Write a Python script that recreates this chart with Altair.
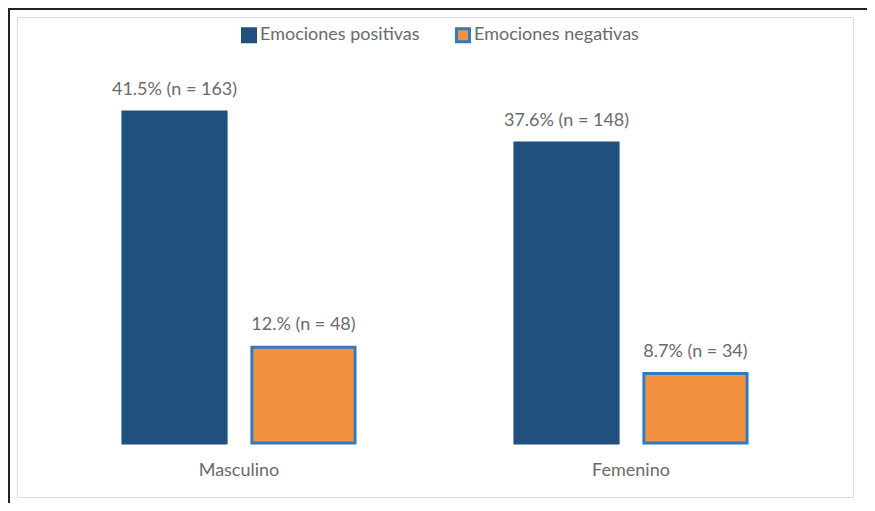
import altair as alt
import pandas as pd

groups = ["Masculino", "Masculino", "Femenino", "Femenino"]
series = ["Emociones positivas", "Emociones negativas", "Emociones positivas", "Emociones negativas"]
values = [41.5, 12.0, 37.6, 8.7]
labels = ["41.5% (n = 163)", "12.% (n = 48)", "37.6% (n = 148)", "8.7% (n = 34)"]

group_order = ["Masculino", "Femenino"]
series_order = ["Emociones positivas", "Emociones negativas"]
fill_colors = ["#20507E", "#F29240"]
stroke_colors = ["#20507E", "#2E7BC4"]

df = pd.DataFrame({"grupo": groups, "serie": series, "valor": values, "etiqueta": labels})

FONT = "Lato"
FS = 18
TXT = "#6a6a6a"
W, H = 836, 480

x = alt.X("grupo:N", sort=group_order, title=None,
          scale=alt.Scale(range=[26, 810], paddingInner=0, paddingOuter=0),
          axis=alt.Axis(domain=False, ticks=False, labelAngle=0, offset=-54, labelPadding=18,
                        labelFontSize=FS, labelColor=TXT, labelFont=FONT))
xo = alt.XOffset("serie:N", sort=series_order,
                 scale=alt.Scale(paddingInner=0.2, paddingOuter=0.62))
y = alt.Y("valor:Q", title=None,
          scale=alt.Scale(domain=[0, 45], range=[426, 67], nice=False),
          axis=None)

legend = alt.Legend(title=None, orient="none", legendX=223, legendY=9,
                    direction="horizontal", symbolType="square",
                    symbolSize=169, symbolStrokeWidth=3,
                    labelFontSize=FS, labelColor=TXT, labelFont=FONT, labelLimit=400,
                    columnPadding=30, labelOffset=2)

bars = alt.Chart(df).mark_bar(strokeWidth=3).encode(
    x=x, xOffset=xo, y=y,
    color=alt.Color("serie:N", sort=series_order,
                    scale=alt.Scale(domain=series_order, range=fill_colors),
                    legend=legend),
    stroke=alt.Stroke("serie:N", sort=series_order,
                      scale=alt.Scale(domain=series_order, range=stroke_colors),
                      legend=legend),
)

text = alt.Chart(df).mark_text(baseline="middle", dy=-22, fontSize=FS, font=FONT,
                               color=TXT).encode(
    x=alt.X("grupo:N", sort=group_order), xOffset=alt.XOffset("serie:N", sort=series_order),
    y="valor:Q", text="etiqueta:N")

frame = alt.Chart(alt.Data(values=[{}]))
left_line = frame.mark_rule(color="#222222", strokeWidth=2).encode(
    x=alt.value(-8), y=alt.value(-9), y2=alt.value(H + 6))
top_line = frame.mark_rule(color="#222222", strokeWidth=2).encode(
    y=alt.value(-8), x=alt.value(-9), x2=alt.value(W + 14))

chart = alt.layer(bars, text, left_line, top_line).properties(
    width=W, height=H,
    autosize=alt.AutoSizeParams(type="none"),
    padding={"left": 9, "top": 9, "right": 14, "bottom": 6},
).configure_view(stroke="#e2e2e2", strokeWidth=1.5).configure(background="white")

chart.save("out.html", embed_options={"renderer": "svg", "actions": False})
